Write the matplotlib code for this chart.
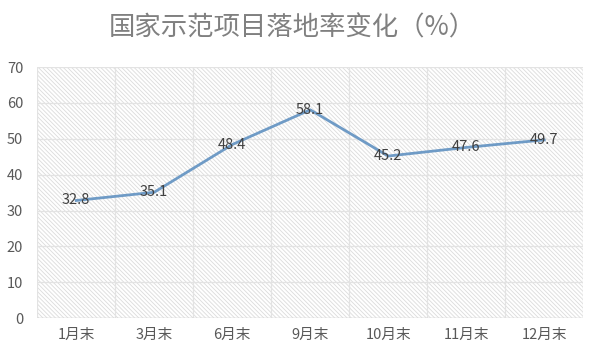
import matplotlib.pyplot as plt
import matplotlib as mpl

plt.rcParams['font.family'] = ['Noto Sans CJK SC', 'DejaVu Sans']
mpl.rcParams['hatch.linewidth'] = 0.6

# chart data
months = ['1月末', '3月末', '6月末', '9月末', '10月末', '11月末', '12月末']
rate = [32.8, 35.1, 48.4, 58.1, 45.2, 47.6, 49.7]
yticks = [0, 10, 20, 30, 40, 50, 60, 70]

fig = plt.figure(figsize=(6.0, 3.59), dpi=100)
ax = fig.add_axes([0.062, 0.114, 0.910, 0.699])

x = list(range(len(months)))
ax.set_xlim(-0.5, len(months) - 0.5)
ax.set_ylim(0, 70)

# hatched plot area background
ax.add_patch(mpl.patches.Rectangle((0, 0), 1, 1, transform=ax.transAxes,
                                   facecolor='white', edgecolor='#dcdcdc',
                                   hatch='\\' * 8, linewidth=0, zorder=0))

for y in yticks:
    ax.axhline(y, color='#e3e3e3', lw=0.9, zorder=1)
for k in range(len(months) + 1):
    ax.axvline(k - 0.5, color='#e3e3e3', lw=0.9, zorder=1)
ax.axhline(0, color='#d0d0d0', lw=1.0, zorder=1)

ax.plot(x, rate, color='#6f9bc6', lw=2.0, zorder=3, solid_joinstyle='round')
for xi, v in zip(x, rate):
    ax.text(xi, v, f'{v:.1f}', ha='center', va='center', fontsize=10.5,
            color='#404040', zorder=4)

ax.set_xticks(x)
ax.set_xticklabels(months)
ax.set_yticks(yticks)
ax.tick_params(axis='both', length=0, labelsize=10.5, colors='#595959')
ax.tick_params(axis='x', pad=7)
ax.tick_params(axis='y', pad=10)
for s in ax.spines.values():
    s.set_visible(False)

fig.text(0.487, 0.922, '国家示范项目落地率变化（%）', ha='center', va='center',
         fontsize=19, color='#808080')

fig.savefig('out.png', dpi=100)
